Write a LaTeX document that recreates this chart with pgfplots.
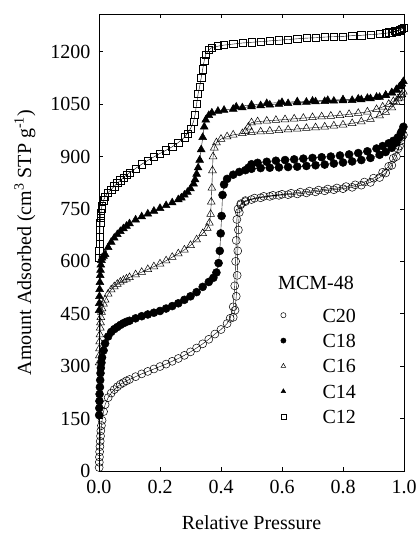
\documentclass[border=0pt]{standalone}
\usepackage{pgfplots}
\pgfplotsset{compat=1.18}
\usepackage{fontspec}
\setmainfont{Liberation Serif}
\begin{document}
\begin{tikzpicture}
\begin{axis}[
  at={(0,0)}, anchor=south west,
  scale only axis, width=305bp, height=457bp,
  xmin=0, xmax=1, ymin=0, ymax=1308,
  xtick={0,0.2,0.4,0.6,0.8,1.0},
  ytick={0,150,300,450,600,750,900,1050,1200},
  xticklabel style={/pgf/number format/fixed, /pgf/number format/fixed zerofill, /pgf/number format/precision=1, yshift=-6bp},
  yticklabel style={/pgf/number format/1000 sep={}, xshift=-5bp},
  /pgf/number format/assume math mode=true,
  tick pos=both, tick align=inside, major tick length=4bp,
  axis line style={line width=0.6bp},
  every tick/.style={line width=0.6bp, black},
  every tick label/.append style={font=\fontsize{20bp}{24bp}\selectfont},
  every axis y label/.style={at={(axis description cs:-0.2426,0.5)}, rotate=90, anchor=center, font=\fontsize{20bp}{24bp}\selectfont},
  every axis x label/.style={at={(axis description cs:0.5,-0.1138)}, anchor=center, font=\fontsize{20bp}{24bp}\selectfont},
  xlabel={Relative Pressure},
  ylabel={Amount Adsorbed (cm\textsuperscript{3} STP g\textsuperscript{-1})},
  clip=false,
  legend image code/.code={\path (-20bp,0bp) (20bp,0bp); \draw[#1, mark size=2.6bp] plot coordinates {(0bp,0bp)};},
  legend style={at={(axis description cs:0.5377,0.3567)}, anchor=north west, draw=none, fill=none,
    font=\fontsize{20bp}{24bp}\selectfont, inner sep=0bp, row sep=11.4bp, column sep=19bp,
    nodes={inner sep=0bp, text height=14bp, text depth=0bp}},
  legend cell align=left,
]
% C20
\addplot[black, line width=0.4bp, mark=o, mark size=4bp, mark options={fill=white, line width=0.5bp}] coordinates {
(0.0005,10)(0.001,25)(0.0015,40)(0.002,55)(0.003,70)(0.004,85)(0.005,100)(0.006,115)(0.008,130)(0.01,145)
(0.015,170)(0.02,190)(0.03,210)(0.04,223)(0.05,233)(0.06,241)(0.07,248)(0.08,253)(0.09,258)(0.10,262)
(0.12,270)(0.14,278)(0.16,285)(0.18,292)(0.20,299)(0.22,306)(0.24,314)(0.26,322)(0.28,331)(0.30,341)
(0.32,352)(0.34,364)(0.36,377)(0.38,392)(0.40,405)(0.42,422)(0.43,437)(0.44,470)(0.445,530)(0.448,600)
(0.450,660)(0.452,720)(0.456,750)(0.465,762)(0.48,771)(0.50,777)(0.53,782)(0.56,786)(0.59,789)(0.62,791)
(0.65,793)(0.68,796)(0.71,799)(0.74,802)(0.77,805)(0.80,808)(0.83,812)(0.86,818)(0.89,826)(0.92,840)
(0.94,853)(0.96,875)(0.975,900)(0.985,930)(0.993,955)(0.998,962)
(0.99,945)(0.98,922)(0.965,895)(0.95,872)(0.93,855)(0.90,838)(0.87,827)(0.84,819)(0.81,814)(0.78,810)
(0.75,807)(0.72,804)(0.69,801)(0.66,798)(0.63,795)(0.60,792)(0.57,789)(0.54,786)(0.51,781)(0.48,774)
(0.465,765)(0.46,740)(0.457,690)(0.455,630)(0.453,560)(0.45,500)(0.446,460)(0.44,440)
};
\addlegendentry{C20}
% C18
\addplot[black, line width=0.4bp, mark=*, mark size=4bp, mark options={fill=black, line width=0.5bp}] coordinates {
(0.0005,160)(0.001,180)(0.0015,200)(0.002,220)(0.003,240)(0.004,260)(0.005,280)(0.006,295)(0.008,310)(0.01,325)
(0.015,345)(0.02,365)(0.03,385)(0.04,398)(0.05,406)(0.06,412)(0.07,418)(0.08,423)(0.09,427)(0.10,430)
(0.12,437)(0.14,443)(0.16,448)(0.18,453)(0.20,458)(0.22,465)(0.24,472)(0.26,480)(0.28,490)(0.30,500)
(0.32,512)(0.34,527)(0.36,541)(0.375,553)(0.385,568)(0.392,595)(0.396,630)(0.399,680)(0.402,730)(0.405,790)
(0.41,820)(0.42,836)(0.44,848)(0.46,856)(0.48,861)(0.50,865)(0.53,867)(0.56,868)(0.59,869)(0.62,870)
(0.65,871)(0.68,873)(0.71,875)(0.74,877)(0.77,880)(0.80,883)(0.83,886)(0.86,890)(0.89,896)(0.92,905)
(0.94,913)(0.96,925)(0.975,940)(0.985,955)(0.993,972)(0.998,985)
(0.99,968)(0.98,955)(0.965,945)(0.95,938)(0.93,930)(0.91,923)(0.88,915)(0.85,910)(0.82,906)(0.79,903)
(0.76,900)(0.73,898)(0.70,896)(0.67,894)(0.64,892)(0.61,890)(0.58,888)(0.55,885)(0.52,882)(0.50,878)(0.49,868)
};
\addlegendentry{C18}
% C16
\addplot[black, line width=0.4bp, mark=triangle, mark size=4.5bp, mark options={fill=white, line width=0.5bp}] coordinates {
(0.0005,310)(0.001,330)(0.0015,350)(0.002,370)(0.003,390)(0.004,410)(0.005,425)(0.006,440)(0.008,455)(0.01,465)
(0.015,478)(0.02,490)(0.03,507)(0.04,519)(0.05,528)(0.06,535)(0.07,541)(0.08,546)(0.09,550)(0.10,554)
(0.12,562)(0.14,569)(0.16,577)(0.18,585)(0.20,593)(0.22,602)(0.24,612)(0.26,622)(0.28,633)(0.30,646)
(0.32,662)(0.34,680)(0.355,695)(0.362,710)(0.366,735)(0.368,770)(0.37,810)(0.372,860)(0.374,900)(0.378,925)
(0.385,940)(0.40,950)(0.42,957)(0.44,962)(0.47,966)(0.50,969)(0.53,971)(0.56,973)(0.59,975)(0.62,977)
(0.65,979)(0.68,981)(0.71,983)(0.74,985)(0.77,988)(0.80,991)(0.83,995)(0.86,1000)(0.89,1007)(0.92,1017)
(0.94,1027)(0.96,1040)(0.975,1055)(0.985,1068)(0.993,1078)(0.998,1085)
(0.99,1075)(0.98,1066)(0.965,1058)(0.95,1050)(0.93,1042)(0.91,1035)(0.88,1028)(0.85,1024)(0.82,1021)(0.79,1018)
(0.76,1016)(0.73,1014)(0.70,1012)(0.67,1010)(0.64,1008)(0.61,1006)(0.58,1004)(0.55,1002)(0.52,1000)(0.50,997)
(0.49,985)(0.48,972)
};
\addlegendentry{C16}
% C14
\addplot[black, line width=0.4bp, mark=triangle*, mark size=4.5bp, mark options={fill=black, line width=0.5bp}] coordinates {
(0.0005,460)(0.001,480)(0.0015,500)(0.002,520)(0.003,540)(0.004,560)(0.005,575)(0.006,590)(0.008,603)(0.01,610)
(0.015,615)(0.02,620)(0.03,640)(0.04,655)(0.05,667)(0.06,677)(0.07,686)(0.08,694)(0.09,701)(0.10,708)
(0.12,719)(0.14,728)(0.16,736)(0.18,744)(0.20,752)(0.22,760)(0.24,768)(0.26,777)(0.27,782)(0.28,790)
(0.29,798)(0.30,808)(0.31,822)(0.315,834)(0.32,850)(0.325,868)(0.33,890)(0.335,920)(0.34,955)(0.345,985)
(0.35,1005)(0.36,1018)(0.37,1025)(0.39,1030)(0.41,1033)(0.44,1036)(0.47,1040)(0.50,1043)(0.53,1046)(0.56,1048)
(0.59,1050)(0.62,1052)(0.65,1054)(0.68,1056)(0.71,1057)(0.74,1058)(0.77,1059)(0.80,1060)(0.83,1061)(0.86,1063)
(0.89,1066)(0.92,1070)(0.94,1075)(0.96,1083)(0.975,1092)(0.985,1100)(0.993,1108)(0.998,1115)
(0.99,1100)(0.975,1090)(0.96,1082)(0.94,1076)(0.91,1070)(0.88,1067)(0.85,1065)(0.80,1063)(0.75,1061)
(0.70,1059)(0.65,1057)(0.60,1055)(0.55,1052)(0.50,1048)(0.45,1042)
};
\addlegendentry{C14}
% C12
\addplot[black, line width=0.4bp, mark=square, mark size=3.6bp, mark options={fill=white, line width=0.5bp}] coordinates {
(0.0005,610)(0.001,630)(0.0015,650)(0.002,670)(0.003,690)(0.004,710)(0.005,725)(0.006,738)(0.008,750)(0.01,760)
(0.015,775)(0.02,785)(0.03,797)(0.04,806)(0.05,815)(0.06,824)(0.07,832)(0.08,840)(0.09,847)(0.10,854)
(0.12,866)(0.14,878)(0.16,889)(0.18,899)(0.20,909)(0.22,918)(0.24,928)(0.26,940)(0.28,955)(0.29,966)
(0.30,980)(0.31,1000)(0.315,1020)(0.32,1050)(0.325,1080)(0.33,1100)(0.335,1125)(0.34,1150)(0.345,1175)(0.35,1192)
(0.36,1205)(0.37,1212)(0.39,1216)(0.41,1219)(0.44,1222)(0.47,1225)(0.50,1227)(0.53,1229)(0.56,1231)(0.59,1233)
(0.62,1235)(0.65,1237)(0.68,1239)(0.71,1240)(0.74,1242)(0.77,1243)(0.80,1244)(0.83,1246)(0.86,1247)(0.89,1249)
(0.92,1251)(0.94,1253)(0.96,1255)(0.975,1258)(0.985,1261)(0.993,1265)(0.998,1268)
(0.985,1263)(0.97,1259)(0.95,1256)
};
\addlegendentry{C12}
\node[font=\fontsize{20bp}{24bp}\selectfont, anchor=center] at (axis description cs:0.7115,0.4114) {MCM-48};
\end{axis}
\pgfresetboundingbox
\path[use as bounding box] (-99bp,-63bp) rectangle (320bp,471bp);
\end{tikzpicture}
\end{document}
